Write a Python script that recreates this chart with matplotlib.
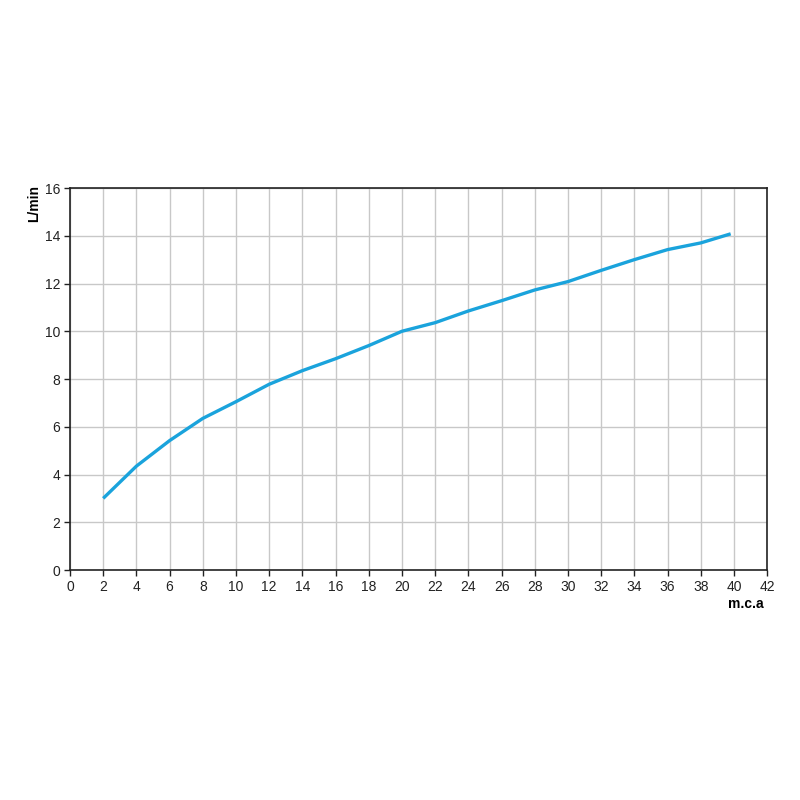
import matplotlib
matplotlib.use("Agg")
import matplotlib.pyplot as plt

plt.rcParams['font.family'] = ['Liberation Sans', 'DejaVu Sans']

pressure = [2, 4, 6, 8, 10, 12, 14, 16, 18, 20, 22, 24, 26, 28, 30, 32, 34, 36, 38, 39.8]
flow = [3.0, 4.35, 5.42, 6.35, 7.05, 7.78, 8.35, 8.85, 9.4, 10.0, 10.36, 10.85, 11.28,
        11.73, 12.08, 12.55, 13.0, 13.42, 13.7, 14.08]
xticks = list(range(0, 43, 2))
yticks = list(range(0, 17, 2))

fig = plt.figure(figsize=(8, 8), dpi=100)
ax = fig.add_axes([0.0875, 0.2875, 0.8715, 0.4775])
ax.plot(pressure, flow, color='#1AA3DC', linewidth=2.4, solid_capstyle='butt')
ax.set_xlim(0, 42)
ax.set_ylim(0, 16)
ax.set_xticks(xticks)
ax.set_yticks(yticks)
ax.grid(True, color='#c8c8c8', linewidth=1.0)
ax.set_axisbelow(True)
for s in ax.spines.values():
    s.set_color('#222222')
    s.set_linewidth(1.2)
ax.tick_params(axis='both', labelsize=10, length=4, width=1, color='#222222', pad=3,
               labelcolor='#222222')
fig.text(0.0425, 0.745, 'L/min', rotation=90, fontsize=10, fontweight='bold', ha='center', va='center')
fig.text(0.932, 0.245, 'm.c.a', fontsize=10, fontweight='bold', ha='center', va='center')
fig.savefig('out.png', dpi=100)
